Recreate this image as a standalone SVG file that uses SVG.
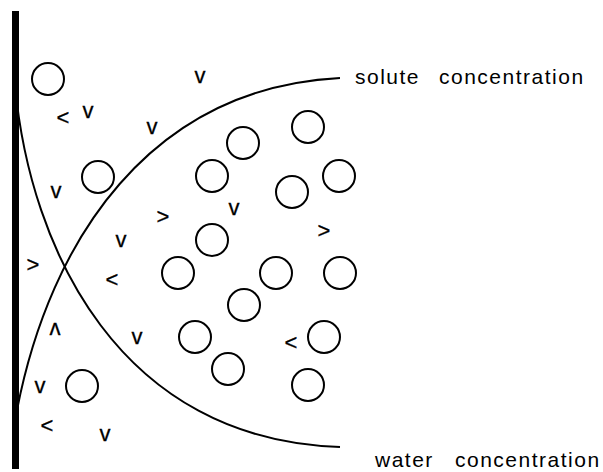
<svg xmlns="http://www.w3.org/2000/svg" width="603" height="472" viewBox="0 0 603 472">
<style>
.m{fill:none;stroke:#000;stroke-width:2}
.c{fill:none;stroke:#000;stroke-width:2}
.s{font-family:"Liberation Sans",Arial,sans-serif;font-size:22px;fill:#000;stroke:#000;stroke-width:0.3;text-anchor:middle}
.l{font-family:"Liberation Sans",Arial,sans-serif;font-size:21px;fill:#000;letter-spacing:1.5px}
</style>
<rect width="603" height="472" fill="#fff"/>
<rect id="membrane" x="12" y="11" width="7" height="458" fill="#000"/>
<g id="curves">
<path id="solute-curve" class="c" d="M17,410 C50,240 150,88 340,78"/>
<path id="water-curve" class="c" d="M15,85 C30,250 120,440 340,447"/>
</g>
<g id="molecules">
<circle id="m1" class="m" cx="48" cy="79" r="16"/>
<circle id="m2" class="m" cx="98" cy="177" r="16"/>
<circle id="m3" class="m" cx="243" cy="143" r="16"/>
<circle id="m4" class="m" cx="308" cy="127" r="16"/>
<circle id="m5" class="m" cx="212" cy="176" r="16"/>
<circle id="m6" class="m" cx="292" cy="192" r="16"/>
<circle id="m7" class="m" cx="339" cy="176" r="16"/>
<circle id="m8" class="m" cx="212" cy="240" r="16"/>
<circle id="m9" class="m" cx="178" cy="273" r="16"/>
<circle id="m10" class="m" cx="276" cy="273" r="16"/>
<circle id="m11" class="m" cx="340" cy="273" r="16"/>
<circle id="m12" class="m" cx="244" cy="305" r="16"/>
<circle id="m13" class="m" cx="195" cy="337" r="16"/>
<circle id="m14" class="m" cx="324" cy="337" r="16"/>
<circle id="m15" class="m" cx="228" cy="369" r="16"/>
<circle id="m16" class="m" cx="308" cy="385" r="16"/>
<circle id="m17" class="m" cx="82" cy="386" r="16"/>
</g>
<g id="arrows">
<text class="s" x="200" y="83">v</text>
<text class="s" x="63" y="125">&lt;</text>
<text class="s" x="88" y="118">v</text>
<text class="s" x="152" y="134">v</text>
<text class="s" x="56" y="198">v</text>
<text class="s" x="163" y="224">&gt;</text>
<text class="s" x="121" y="247">v</text>
<text class="s" x="33" y="272">&gt;</text>
<text class="s" x="112" y="287">&lt;</text>
<text class="s" x="55" y="313" transform="rotate(180 55 318)">v</text>
<text class="s" x="137" y="344">v</text>
<text class="s" x="40" y="393">v</text>
<text class="s" x="47" y="433">&lt;</text>
<text class="s" x="105" y="441">v</text>
<text class="s" x="234" y="215">v</text>
<text class="s" x="324" y="238">&gt;</text>
<text class="s" x="291" y="350">&lt;</text>
</g>
<g id="label-solute">
<text class="l" x="355" y="84">solute<tspan x="439">concentration</tspan></text>
</g>
<g id="label-water">
<text class="l" x="375" y="467">water<tspan x="455">concentration</tspan></text>
</g>
</svg>
